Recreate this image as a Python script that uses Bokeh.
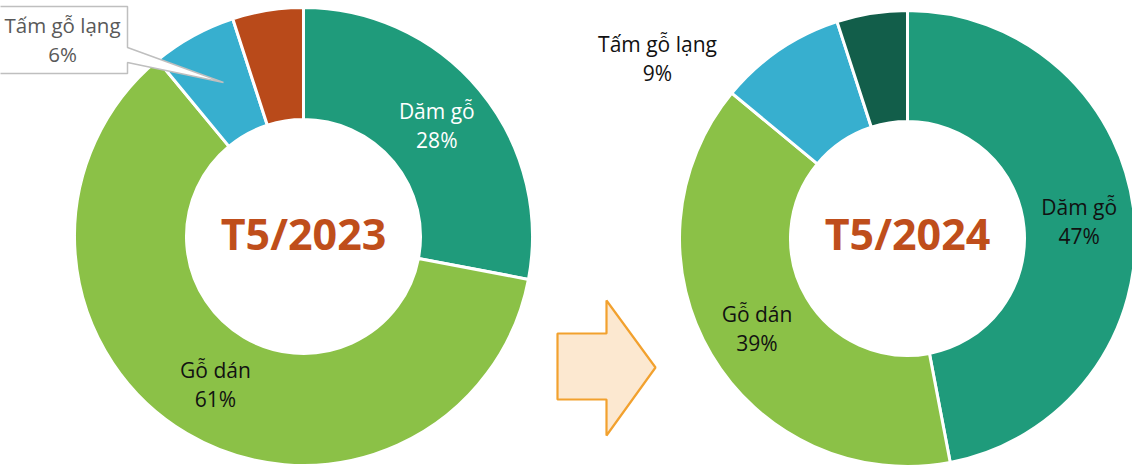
import numpy as np
from bokeh.plotting import figure
from bokeh.models import Range1d, ColumnDataSource
from bokeh.core.properties import value
from bokeh.embed import file_html
from bokeh.resources import INLINE

# ---- data ----
categories_2023 = ["Dăm gỗ", "Gỗ dán", "Tấm gỗ lạng", "Khác"]
shares_2023 = [28, 61, 6, 5]
categories_2024 = ["Dăm gỗ", "Gỗ dán", "Tấm gỗ lạng", "Khác"]
shares_2024 = [47, 39, 9, 5]
colors_2023 = ["#1F9B7B", "#8BC147", "#37AFCF", "#B94A1A"]
colors_2024 = ["#1F9B7B", "#8BC147", "#37AFCF", "#125E4A"]
titles = ["T5/2023", "T5/2024"]

H = 466  # screen height used to flip y
FONT = "Open Sans"

p = figure(width=1132, height=466, output_backend="svg", toolbar_location=None,
           x_range=Range1d(0, 1132), y_range=Range1d(0, 466), min_border=0)
p.axis.visible = False
p.grid.visible = False
p.outline_line_color = None
p.background_fill_color = "white"


def donut(cx, cy_s, r_out, r_in, cats, shares, colors):
    fr = np.array(shares, dtype=float) / sum(shares)
    cum = np.concatenate([[0.0], np.cumsum(fr)])
    start = np.pi / 2 - 2 * np.pi * cum[:-1]
    end = np.pi / 2 - 2 * np.pi * cum[1:]
    n = len(shares)
    src = ColumnDataSource(dict(x=[cx] * n, y=[H - cy_s] * n, start=start, end=end,
                                color=colors, cat=cats))
    p.annular_wedge(x="x", y="y", inner_radius=r_in, outer_radius=r_out,
                    start_angle="start", end_angle="end", direction="clock",
                    fill_color="color", line_color="white", line_width=3, source=src)
    mid = cum[:-1] + fr / 2
    th = 2 * np.pi * mid
    rm = (r_out + r_in) / 2
    lx = cx + rm * np.sin(th)
    ly = cy_s - rm * np.cos(th)
    return lx, ly


def label(x, y_center_s, name, pct, color, size="21px"):
    p.text(x=[x], y=[H - (y_center_s - 15)], text=[name], text_align="center",
           text_baseline="alphabetic", text_color=color,
           text_font=value(FONT), text_font_size=size)
    p.text(x=[x], y=[H - (y_center_s + 14)], text=[pct], text_align="center",
           text_baseline="alphabetic", text_color=color,
           text_font=value(FONT), text_font_size=size)


# left donut
lx1, ly1 = donut(303, 236, 229, 117, categories_2023, shares_2023, colors_2023)
label(lx1[0], ly1[0], categories_2023[0], f"{shares_2023[0]}%", "white")
label(lx1[1], ly1[1], categories_2023[1], f"{shares_2023[1]}%", "#111111")

# right donut
lx2, ly2 = donut(907, 238, 228, 117, categories_2024, shares_2024, colors_2024)
label(lx2[0], ly2[0], categories_2024[0], f"{shares_2024[0]}%", "#111111")
label(lx2[1] - 2, ly2[1] + 3, categories_2024[1], f"{shares_2024[1]}%", "#111111")
label(657, 58, categories_2024[2], f"{shares_2024[2]}%", "#111111")

# callout for left "Tấm gỗ lạng"
cx_pts = [-2, 127, 127, 223, 127, 127, -2]
cy_pts = [6, 6, 47, 82, 62, 73, 73]
p.patch(x=cx_pts, y=[H - v for v in cy_pts], fill_color="white",
        line_color="#BFBFBF", line_width=1.5)
label(62, 39, categories_2023[2], f"{shares_2023[2]}%", "#595959", size="20.5px")

# arrow between the two donuts
ax = [557, 606, 606, 655, 606, 606, 557]
ay = [333, 333, 300, 367, 435, 399, 399]
p.patch(x=ax, y=[H - v for v in ay], fill_color="#FCE8D0",
        line_color="#F2A12E", line_width=2.2)

# centre titles
for cx, t in zip([303, 907], titles):
    p.text(x=[cx], y=[H - 233], text=[t], text_align="center",
           text_baseline="alphabetic", text_color="#BF4E1B",
           text_font=value(FONT), text_font_style="bold", text_font_size="43px")

open("out.html", "w").write(file_html(p, INLINE))
